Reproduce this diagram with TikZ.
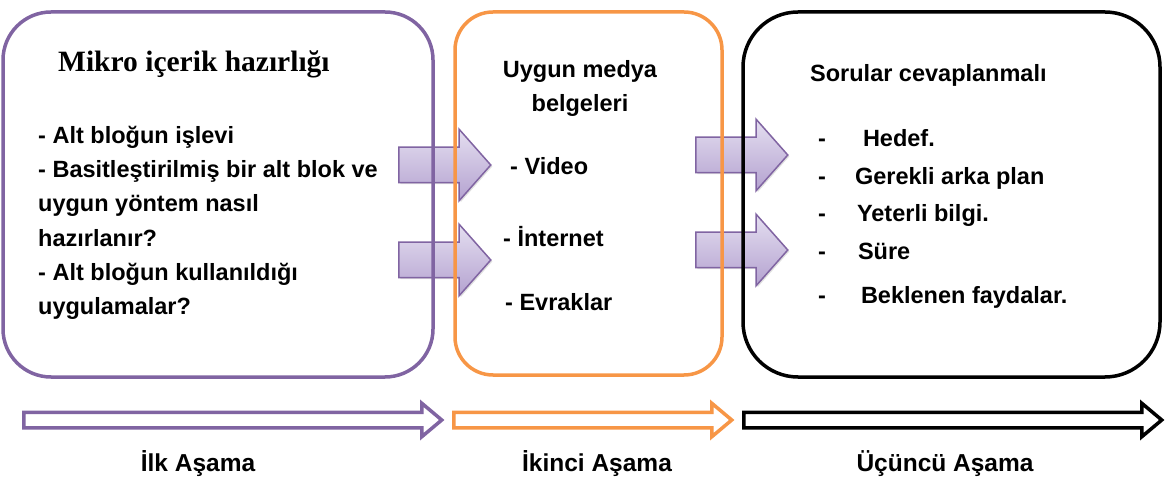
\documentclass[tikz,border=0pt]{standalone}
\usepackage{fontspec}
\setmainfont{Liberation Sans}
\newfontfamily\titlefont{Liberation Serif}
\usetikzlibrary{positioning,shapes.arrows,shadows}

\definecolor{stageppl}{RGB}{128,100,162}
\definecolor{stageorg}{RGB}{247,150,70}
\definecolor{lavtop}{RGB}{228,222,240}
\definecolor{lavbot}{RGB}{180,162,208}

\tikzset{
  stagebox/.style={draw=#1, line width=3.5pt, inner sep=0pt},
  blockarrow/.style={single arrow, draw=stageppl, line width=1.5pt,
    top color=lavtop, bottom color=lavbot,
    drop shadow={shadow xshift=1.5pt, shadow yshift=-1.5pt, opacity=0.25},
    inner xsep=0pt, inner ysep=17pt, single arrow head extend=18pt,
    single arrow tip angle=97, minimum height=92pt, anchor=tail},
  phasearrow/.style={single arrow, draw=#1, fill=white, line width=3.5pt,
    inner xsep=0pt, inner ysep=6pt, single arrow head extend=9pt,
    single arrow tip angle=80, anchor=tail},
  bodytext/.style={font=\bfseries\fontsize{23.5}{34.4}\selectfont, inner sep=0pt, align=left},
  phaselabel/.style={font=\bfseries\fontsize{24.5}{28}\selectfont, inner sep=0pt},
}

\begin{document}
\begin{tikzpicture}[x=1pt, y=-1pt]
    \useasboundingbox (0,0) rectangle (1175,486);

    % Block arrows between the stages
    \node[blockarrow] (arrA) at (398,165) {};
    \node[blockarrow] (arrB) at (398,260) {};
    \node[blockarrow] (arrC) at (695,155) {};
    \node[blockarrow] (arrD) at (695,250) {};

    % Stage boxes
    \node[stagebox=stageppl, rounded corners=48pt, minimum width=430pt, minimum height=365pt] (mikro) at (218,194.5) {};
    \node[stagebox=stageorg, rounded corners=38pt, minimum width=267pt, minimum height=363pt] (medya) at (588.5,193.5) {};
    \node[stagebox=black, rounded corners=55pt, minimum width=417pt, minimum height=365pt] (sorular) at (951.5,194.5) {};

    % First stage text
    \node[font=\titlefont\bfseries\fontsize{29.5}{30}\selectfont, inner sep=0pt, anchor=base west] (mikrotitle) at (58,72) {Mikro içerik hazırlığı};
    \node[bodytext, anchor=base west] (mikrolist) at (38,315) {- Alt bloğun işlevi\\- Basitleştirilmiş bir alt blok ve\\uygun yöntem nasıl\\hazırlanır?\\- Alt bloğun kullanıldığı\\uygulamalar?};

    % Second stage text
    \node[bodytext, align=center, font=\bfseries\fontsize{23.5}{34}\selectfont, anchor=base] (medyatitle) at (580,112) {Uygun medya\\belgeleri};
    \node[bodytext, anchor=base west] (video) at (510,175) {- Video};
    \node[bodytext, anchor=base west] (internet) at (503,247) {- İnternet};
    \node[bodytext, anchor=base west] (evrak) at (505,310) {- Evraklar};

    % Third stage text
    \node[bodytext, anchor=base west] (sorulartitle) at (810,82) {Sorular cevaplanmalı};
    \node[bodytext, anchor=base west] (hedef) at (818,147) {-\hspace{37pt}Hedef.};
    \node[bodytext, anchor=base west] (gerekli) at (818,185) {-\hspace{29pt}Gerekli arka plan};
    \node[bodytext, anchor=base west] (yeterli) at (818,222) {-\hspace{31pt}Yeterli bilgi.};
    \node[bodytext, anchor=base west] (sure) at (818,260) {-\hspace{32pt}Süre};
    \node[bodytext, anchor=base west] (beklenen) at (818,303) {-\hspace{35pt}Beklenen faydalar.};

    % Phase arrows along the bottom
    \node[phasearrow=stageppl, minimum height=418pt] (phaseA) at (22,420) {};
    \node[phasearrow=stageorg, minimum height=278pt] (phaseB) at (452,420) {};
    \node[phasearrow=black, minimum height=418pt] (phaseC) at (742,420) {};

    \node[phaselabel] (ilk) at (198,464) {İlk Aşama};
    \node[phaselabel] (ikinci) at (597,464) {İkinci Aşama};
    \node[phaselabel] (ucuncu) at (945,464) {Üçüncü Aşama};
\end{tikzpicture}
\end{document}
